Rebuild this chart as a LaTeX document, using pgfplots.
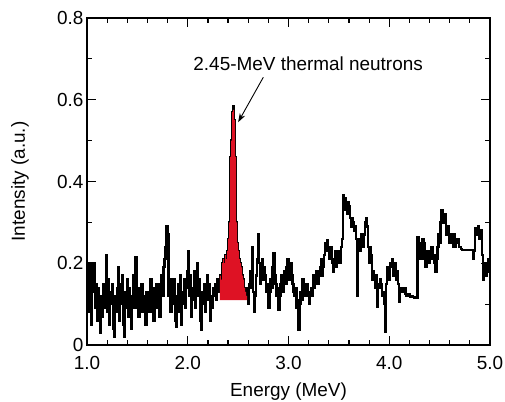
\documentclass[border=0pt]{standalone}
\usepackage{pgfplots}
\pgfplotsset{compat=1.18}
\usepackage{pgfplotstable}
\usetikzlibrary{arrows.meta}
\usepackage{fontspec}
\setmainfont{Liberation Sans}
\definecolor{peakred}{RGB}{222,18,36}

\pgfplotstableread{
x y
1.00 0.12
1.01 0.20
1.02 0.08
1.03 0.20
1.04 0.05
1.05 0.20
1.06 0.13
1.07 0.20
1.08 0.09
1.09 0.15
1.10 0.06
1.11 0.14
1.12 0.10
1.13 0.03
1.14 0.12
1.15 0.07
1.16 0.15
1.17 0.09
1.18 0.13
1.19 0.22
1.20 0.08
1.21 0.16
1.22 0.05
1.23 0.13
1.24 0.10
1.25 0.15
1.26 0.04
1.27 0.02
1.28 0.12
1.29 0.08
1.30 0.14
1.31 0.19
1.32 0.06
1.33 0.15
1.34 0.10
1.35 0.17
1.36 0.05
1.37 0.02
1.38 0.13
1.39 0.09
1.40 0.16
1.41 0.07
1.42 0.14
1.43 0.11
1.44 0.04
1.45 0.12
1.46 0.17
1.47 0.09
1.48 0.215
1.49 0.10
1.50 0.14
1.51 0.07
1.52 0.13
1.53 0.10
1.54 0.15
1.55 0.08
1.56 0.12
1.57 0.11
1.58 0.05
1.59 0.13
1.60 0.10
1.61 0.12
1.62 0.08
1.63 0.16
1.64 0.11
1.65 0.14
1.66 0.06
1.67 0.12
1.68 0.09
1.69 0.15
1.70 0.11
1.71 0.13
1.72 0.07
1.73 0.15
1.74 0.17
1.75 0.12
1.76 0.19
1.77 0.21
1.78 0.24
1.79 0.29
1.80 0.27
1.81 0.12
1.82 0.16
1.83 0.08
1.84 0.14
1.85 0.10
1.86 0.16
1.87 0.06
1.88 0.045
1.89 0.12
1.90 0.15
1.91 0.08
1.92 0.17
1.93 0.05
1.94 0.13
1.95 0.10
1.96 0.16
1.97 0.09
1.98 0.14
1.99 0.18
2.00 0.23
2.01 0.12
2.02 0.17
2.03 0.07
2.04 0.14
2.05 0.11
2.06 0.18
2.07 0.09
2.08 0.15
2.09 0.20
2.10 0.12
2.11 0.16
2.12 0.06
2.13 0.037
2.14 0.13
2.15 0.10
2.16 0.15
2.17 0.08
2.18 0.13
2.19 0.17
2.20 0.11
2.21 0.15
2.22 0.06
2.23 0.12
2.24 0.09
2.25 0.14
2.26 0.12
2.27 0.15
2.28 0.11
2.29 0.16
2.30 0.13
2.31 0.15
2.32 0.17
2.33 0.16
2.34 0.20
2.35 0.21
2.36 0.20
2.37 0.22
2.38 0.21
2.39 0.23
2.40 0.26
2.41 0.30
2.42 0.46
2.43 0.50
2.44 0.57
2.45 0.585
2.46 0.55
2.47 0.46
2.48 0.30
2.49 0.25
2.50 0.23
2.51 0.21
2.52 0.20
2.53 0.19
2.54 0.17
2.55 0.16
2.56 0.14
2.57 0.13
2.58 0.12
2.59 0.14
2.60 0.10
2.61 0.15
2.62 0.18
2.63 0.14
2.64 0.24
2.65 0.13
2.66 0.08
2.67 0.12
2.68 0.17
2.69 0.21
2.70 0.27
2.71 0.20
2.72 0.15
2.73 0.18
2.74 0.21
2.75 0.16
2.76 0.19
2.77 0.17
2.78 0.13
2.79 0.15
2.80 0.09
2.81 0.13
2.82 0.16
2.83 0.14
2.84 0.19
2.85 0.225
2.86 0.17
2.87 0.15
2.88 0.12
2.89 0.14
2.90 0.086
2.91 0.12
2.92 0.15
2.93 0.17
2.94 0.13
2.95 0.16
2.96 0.18
2.97 0.15
2.98 0.19
2.99 0.21
3.00 0.16
3.01 0.18
3.02 0.20
3.03 0.17
3.04 0.15
3.05 0.13
3.06 0.12
3.07 0.14
3.08 0.09
3.09 0.11
3.10 0.037
3.11 0.10
3.12 0.13
3.13 0.11
3.14 0.16
3.15 0.14
3.16 0.12
3.17 0.15
3.18 0.15
3.19 0.12
3.20 0.10
3.21 0.13
3.22 0.14
3.23 0.12
3.24 0.17
3.25 0.14
3.26 0.15
3.27 0.18
3.28 0.18
3.29 0.15
3.30 0.17
3.31 0.19
3.32 0.21
3.33 0.17
3.34 0.19
3.35 0.22
3.36 0.25
3.37 0.23
3.38 0.257
3.39 0.24
3.40 0.21
3.41 0.23
3.42 0.24
3.43 0.20
3.44 0.18
3.45 0.21
3.46 0.23
3.47 0.19
3.48 0.20
3.49 0.23
3.50 0.22
3.51 0.20
3.52 0.24
3.53 0.26
3.54 0.367
3.55 0.33
3.56 0.36
3.57 0.34
3.58 0.32
3.59 0.35
3.60 0.34
3.61 0.31
3.62 0.29
3.63 0.31
3.64 0.30
3.65 0.28
3.66 0.29
3.67 0.26
3.68 0.12
3.69 0.26
3.70 0.25
3.71 0.23
3.72 0.27
3.73 0.26
3.74 0.24
3.75 0.27
3.76 0.30
3.77 0.31
3.78 0.29
3.79 0.24
3.80 0.20
3.81 0.24
3.82 0.22
3.83 0.16
3.84 0.18
3.85 0.16
3.86 0.14
3.87 0.17
3.88 0.093
3.89 0.15
3.90 0.14
3.91 0.16
3.92 0.15
3.93 0.12
3.94 0.13
3.95 0.10
3.96 0.032
3.97 0.15
3.98 0.19
3.99 0.17
4.00 0.16
4.01 0.20
4.02 0.19
4.03 0.21
4.04 0.17
4.05 0.19
4.06 0.20
4.07 0.16
4.08 0.18
4.09 0.15
4.10 0.105
4.11 0.13
4.12 0.14
4.13 0.135
4.14 0.13
4.15 0.14
4.16 0.125
4.17 0.12
4.18 0.12
4.19 0.125
4.20 0.12
4.21 0.118
4.22 0.12
4.23 0.117
4.24 0.118
4.25 0.116
4.26 0.115
4.27 0.115
4.28 0.264
4.29 0.25
4.30 0.24
4.31 0.21
4.32 0.22
4.33 0.26
4.34 0.25
4.35 0.21
4.36 0.19
4.37 0.21
4.38 0.23
4.39 0.20
4.40 0.21
4.41 0.23
4.42 0.24
4.43 0.21
4.44 0.22
4.45 0.20
4.46 0.18
4.47 0.21
4.48 0.24
4.49 0.27
4.50 0.25
4.51 0.30
4.52 0.33
4.53 0.31
4.54 0.30
4.55 0.32
4.56 0.27
4.57 0.28
4.58 0.29
4.59 0.25
4.60 0.26
4.61 0.27
4.62 0.25
4.63 0.24
4.64 0.27
4.65 0.24
4.66 0.25
4.67 0.26
4.68 0.26
4.69 0.24
4.70 0.24
4.71 0.235
4.72 0.232
4.74 0.232
4.76 0.232
4.78 0.232
4.80 0.232
4.82 0.232
4.83 0.21
4.84 0.23
4.85 0.286
4.86 0.27
4.87 0.27
4.88 0.29
4.89 0.26
4.90 0.27
4.91 0.28
4.92 0.22
4.93 0.16
4.94 0.19
4.95 0.20
4.96 0.17
4.97 0.18
4.98 0.21
4.99 0.20
5.00 0.21
}\spectrum

\begin{document}
\begin{tikzpicture}
\useasboundingbox (-87bp,-57bp) rectangle (418bp,345bp);
\begin{axis}[
  at={(0,0)}, anchor=south west,
  scale only axis, width=403bp, height=327bp,
  xmin=1, xmax=5, ymin=0, ymax=0.8,
  xtick={1,2,3,4,5}, xticklabels={1.0,2.0,3.0,4.0,5.0},
  ytick={0,0.2,0.4,0.6,0.8}, yticklabels={0,0.2,0.4,0.6,0.8},
  minor x tick num=4, minor y tick num=1,
  tick align=inside,
  major tick length=9bp, minor tick length=5bp,
  every tick/.style={black, line width=1.2bp},
  axis line style={line width=1.6bp, black},
  font=\fontsize{19}{22}\selectfont,
  /pgf/number format/assume math mode=true,
  xticklabel style={yshift=-8bp},
  xlabel={Energy (MeV)}, ylabel={Intensity (a.u.)},
  xlabel style={at={(axis description cs:0.5,-0.142)}, anchor=center},
  ylabel style={at={(axis description cs:-0.166,0.5)}, anchor=center, rotate=0},
  clip=true,
]
\addplot[const plot, black, line width=2.3bp] table[x=x,y=y] {\spectrum};
\addplot[const plot, draw=none, fill=peakred] coordinates {
(2.32,0.11) (2.32,0.17) (2.33,0.16) (2.34,0.20) (2.35,0.21) (2.36,0.20) (2.37,0.22)
(2.38,0.21) (2.39,0.23) (2.40,0.26) (2.41,0.30) (2.42,0.46) (2.43,0.50) (2.44,0.57)
(2.45,0.575) (2.46,0.55) (2.47,0.46) (2.48,0.30) (2.49,0.25) (2.50,0.23) (2.51,0.21)
(2.52,0.20) (2.53,0.19) (2.54,0.17) (2.55,0.16) (2.56,0.14) (2.57,0.13) (2.58,0.12) (2.59,0.11)
} -- cycle;
\node[font=\fontsize{19}{22}\selectfont] at (axis cs:3.195,0.687) {2.45-MeV thermal neutrons};
\draw[-{Stealth[length=9bp,width=6bp]}, line width=0.9bp] (axis cs:2.75,0.655) -- (axis cs:2.50,0.545);
\end{axis}
\end{tikzpicture}
\end{document}
